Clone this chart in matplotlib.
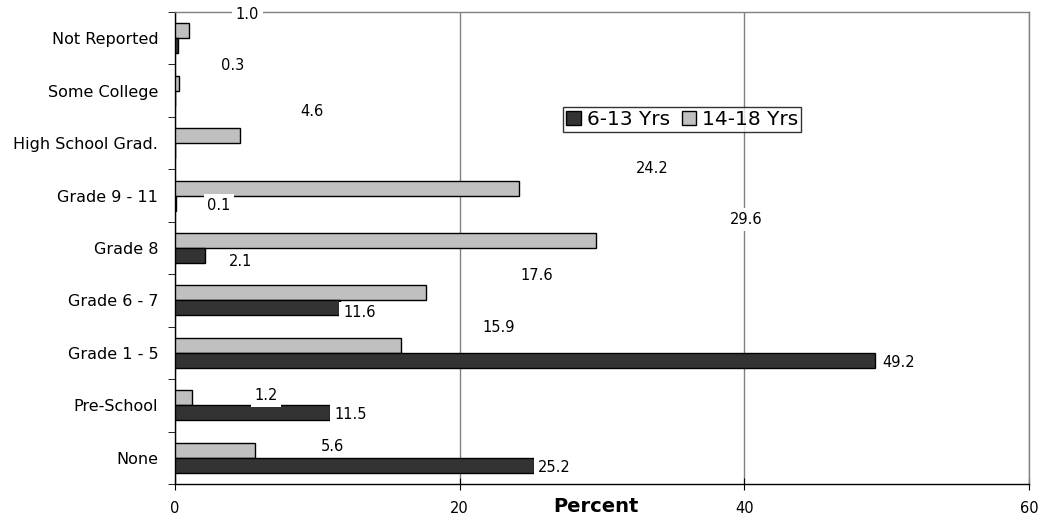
import matplotlib
matplotlib.use('Agg')
import matplotlib.pyplot as plt
import numpy as np

plt.rcParams['font.family'] = ['DejaVu Sans']

categories = ['None', 'Pre-School', 'Grade 1 - 5', 'Grade 6 - 7', 'Grade 8',
              'Grade 9 - 11', 'High School Grad.', 'Some College', 'Not Reported']
young = [25.2, 10.9, 49.2, 11.6, 2.1, 0.1, 0.0, 0.0, 0.2]      # 6-13 Yrs
young_labels = ['25.2', '11.5', '49.2', '11.6', '2.1', '0.1', '', '', '']
older = [5.6, 1.2, 15.9, 17.6, 29.6, 24.2, 4.6, 0.3, 1.0]      # 14-18 Yrs
older_labels = ['5.6', '1.2', '15.9', '17.6', '29.6', '24.2', '4.6', '0.3', '1.0']

# where the labels ended up in the original (pixels from bar end)
young_off = [(4, -2), (4, -2), (7, -2), (3, -5), (24, -6), (31, -2), (0, 0), (0, 0), (0, 0)]
older_off = [(78, 4), (74, 2), (97, 18), (111, 17), (150, 21), (133, 20), (71, 24), (53, 18), (58, 16)]

fig = plt.figure(figsize=(10.41, 5.18), dpi=100)
ax = fig.add_axes([0.1681, 0.0656, 0.8204, 0.9112])

y = np.arange(len(categories))
h = 0.286
ax.barh(y + h/2, older, height=h, color='#C0C0C0', edgecolor='black', lw=1, label='14-18 Yrs', zorder=3)
ax.barh(y - h/2, young, height=h, color='#333333', edgecolor='black', lw=1, label='6-13 Yrs', zorder=3)

box = dict(boxstyle='square,pad=0.25', fc='white', ec='none')
for i in range(len(categories)):
    if young_labels[i]:
        ax.annotate(young_labels[i], (young[i], y[i] - h/2), xytext=young_off[i],
                    textcoords='offset pixels', ha='left', va='center', fontsize=10.5,
                    bbox=box, zorder=5, annotation_clip=False)
    ax.annotate(older_labels[i], (older[i], y[i] + h/2), xytext=older_off[i],
                textcoords='offset pixels', ha='center', va='center', fontsize=10.5,
                bbox=box, zorder=5, annotation_clip=False)

ax.set_xlim(0, 60)
ax.set_ylim(-0.5, len(categories) - 0.5)
ax.set_xticks([0, 20, 40, 60])
ax.set_yticks(y)
ax.set_yticklabels(categories, fontsize=11.5)
ax.set_yticks(np.arange(len(categories) + 1) - 0.5, minor=True)
ax.tick_params(axis='y', which='major', length=0, pad=12)
ax.tick_params(axis='y', which='minor', length=5, direction='out', color='black')
ax.tick_params(axis='x', length=8, direction='inout', labelsize=10.5, pad=8)
ax.xaxis.grid(True, color='#808080', lw=1, zorder=0)
ax.set_axisbelow(True)

for s in ['top', 'right']:
    ax.spines[s].set_color('#808080')
    ax.spines[s].set_linewidth(1)
for s in ['left', 'bottom']:
    ax.spines[s].set_color('black')
    ax.spines[s].set_linewidth(1)

ax.set_xlabel('Percent', fontsize=14, fontweight='bold', va='center')
ax.xaxis.set_label_coords(0.493, -0.048)

handles, labels = ax.get_legend_handles_labels()
leg = ax.legend(handles[::-1], labels[::-1], ncol=2, loc='center', bbox_to_anchor=(0.594, 0.773),
                fontsize=14.5, frameon=True, fancybox=False, edgecolor='black',
                handlelength=0.7, handleheight=0.7, handletextpad=0.3, columnspacing=0.6,
                borderpad=0.15, borderaxespad=0)
leg.get_frame().set_linewidth(1)

fig.savefig('out.png', dpi=100)
